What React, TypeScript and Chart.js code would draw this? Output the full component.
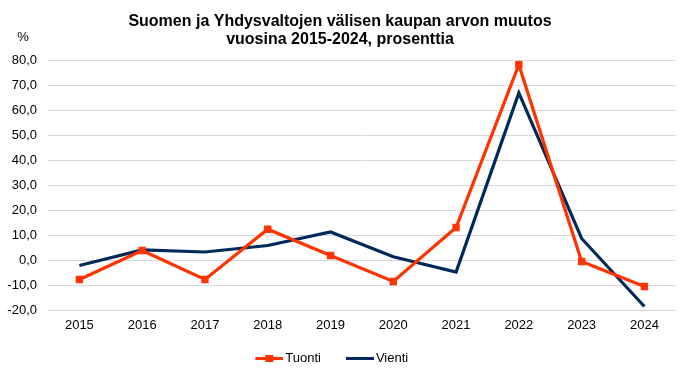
import React, { useEffect, useRef } from "react";
import { Chart, registerables } from "chart.js";

Chart.register(...registerables);

const years = ["2015", "2016", "2017", "2018", "2019", "2020", "2021", "2022", "2023", "2024"];
const tuonti = [-7.6, 4.0, -7.6, 12.5, 2.0, -8.4, 13.2, 78.3, -0.4, -10.4];
const vienti = [-2.0, 4.2, 3.4, 6.0, 11.4, 1.5, -4.6, 67.0, 8.8, -18.4];
const titleLines = ["Suomen ja Yhdysvaltojen välisen kaupan arvon muutos", "vuosina 2015-2024, prosenttia"];
const unitLabel = "%";

const ORANGE = "#FF3300";
const NAVY = "#002A5A";
const FONT = "'Liberation Sans', Arial, sans-serif";

function legendIcon(color: string, marker: boolean): HTMLCanvasElement {
  const c = document.createElement("canvas");
  c.width = 46;
  c.height = 9;
  const ctx = c.getContext("2d")!;
  ctx.strokeStyle = color;
  ctx.lineWidth = 3;
  ctx.beginPath();
  ctx.moveTo(18, 4.5);
  ctx.lineTo(46, 4.5);
  ctx.stroke();
  if (marker) {
    ctx.fillStyle = color;
    ctx.fillRect(28, 1, 8, 7);
  }
  return c;
}

export default function App() {
  const ref = useRef<HTMLCanvasElement>(null);
  useEffect(() => {
    document.body.style.margin = "0";
    const unitPlugin = {
      id: "unitLabel",
      afterLayout(chart: any) {
        if (chart.legend) {
          chart.legend.left -= 15;
          chart.legend.right -= 15;
        }
      },
      afterDraw(chart: any) {
        const ctx = chart.ctx;
        ctx.save();
        ctx.font = `13px ${FONT}`;
        ctx.fillStyle = "#000";
        ctx.textAlign = "center";
        ctx.textBaseline = "middle";
        ctx.fillText(unitLabel, 23, 37);
        ctx.restore();
      },
    };
    const chart = new Chart(ref.current!, {
      type: "line",
      data: {
        labels: years,
        datasets: [
          {
            label: "Tuonti",
            data: tuonti,
            borderColor: ORANGE,
            backgroundColor: ORANGE,
            borderWidth: 3.2,
            pointStyle: "rect",
            pointRadius: 5.2,
            pointBorderWidth: 0,
            tension: 0,
          },
          {
            label: "Vienti",
            data: vienti,
            borderColor: NAVY,
            backgroundColor: NAVY,
            borderWidth: 3.2,
            pointRadius: 0,
            tension: 0,
          },
        ],
      },
      options: {
        responsive: false,
        animation: false,
        layout: { padding: { left: 0, right: 1, top: 0, bottom: 3 } },
        plugins: {
          title: {
            display: true,
            text: titleLines,
            font: { family: FONT, size: 16, weight: "bold", lineHeight: 1.15 },
            color: "#000",
            padding: { top: 12, bottom: 11.6 },
          },
          legend: {
            position: "bottom",
            labels: {
              font: { family: FONT, size: 13 },
              color: "#000",
              usePointStyle: true,
              pointStyleWidth: 37,
              padding: 11.5,
              generateLabels: (chart: any) =>
                chart.data.datasets.map((ds: any, i: number) => ({
                  text: ds.label,
                  fillStyle: ds.borderColor,
                  strokeStyle: ds.borderColor,
                  lineWidth: 0,
                  pointStyle: legendIcon(ds.borderColor, i === 0),
                  datasetIndex: i,
                  hidden: false,
                })),
            },
          },
          tooltip: { enabled: false },
        },
        scales: {
          x: {
            offset: true,
            grid: { display: false, drawTicks: false },
            border: { display: false },
            ticks: { font: { family: FONT, size: 13 }, color: "#000", padding: 7.2 },
          },
          y: {
            min: -20,
            max: 80,
            ticks: {
              stepSize: 10,
              font: { family: FONT, size: 13 },
              color: "#000",
              padding: 11,
              callback: (v: any) => Number(v).toFixed(1).replace(".", ","),
            },
            grid: { color: "#D9D9D9", drawTicks: false, lineWidth: 1 },
            border: { display: false },
            afterFit: (s: any) => {
              s.width = 48;
            },
          },
        },
      },
      plugins: [unitPlugin],
    } as any);
    return () => chart.destroy();
  }, []);
  return <canvas ref={ref} width={681} height={378} />;
}
